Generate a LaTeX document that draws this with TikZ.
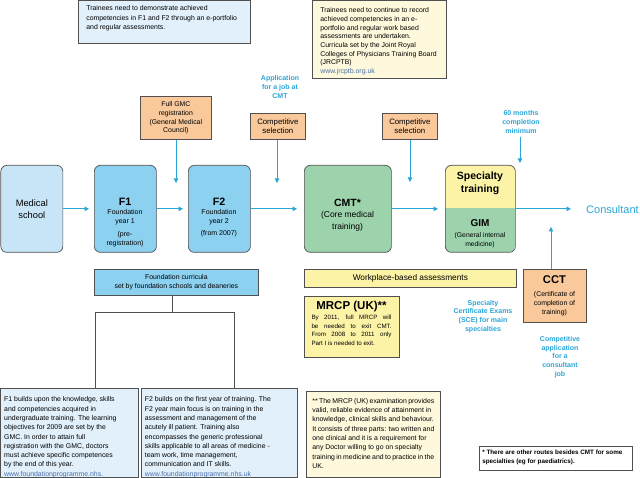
\documentclass[tikz,border=0pt]{standalone}
\usepackage{fontspec}
\setmainfont{Liberation Sans}
\usetikzlibrary{arrows.meta}
\definecolor{bord}{HTML}{505050}
\definecolor{paleblue}{HTML}{E1F0FB}
\definecolor{medblue}{HTML}{C8E5F8}
\definecolor{fblue}{HTML}{8DD1F1}
\definecolor{cgreen}{HTML}{9CD3AC}
\definecolor{syellow}{HTML}{FDF3A6}
\definecolor{pyellow}{HTML}{FEF9DC}
\definecolor{corange}{HTML}{F9C99C}
\definecolor{ccyan}{HTML}{2BA6D9}
\definecolor{urlblue}{HTML}{4A6FA8}
\newcommand\fs[2]{\fontsize{#1}{#2}\selectfont}
\newcommand\tbx[4]{\parbox[c][#2][t]{#1}{\rule{0pt}{#3}\ignorespaces#4}}
\begin{document}
\begin{tikzpicture}[x=1pt,y=-1pt,
  bx/.style={draw=bord, line width=0.7pt, inner sep=0pt, anchor=north west},
  rbx/.style={bx, rounded corners=6pt},
  arr/.style={draw=ccyan, line width=0.9pt, -{Triangle[length=4.5pt,width=4.5pt]}},
  lnk/.style={draw=bord, line width=0.8pt},
  ctext/.style={text=ccyan, font=\bfseries\fs{7}{8.8}, align=center, inner sep=0pt},
  lbl/.style={inner sep=0pt, anchor=base}
]
\useasboundingbox (0,0) rectangle (640,478);
\fill[white] (0,0) rectangle (640,478);

% top text boxes
\node[bx, fill=paleblue, inner xsep=8pt] (tl) at (78,0.4)
 {\tbx{156pt}{42.6pt}{10pt}{\fs{6.9}{9.3}Trainees need to demonstrate achieved\\competencies in F1 and F2 through an e-portfolio\\and regular assessments.}};
\node[bx, fill=pyellow, inner xsep=8pt] (tr) at (312,0.4)
 {\tbx{118pt}{77.6pt}{12pt}{\fs{6.9}{8.7}Trainees need to continue to record\\achieved competencies in an e-\\portfolio and regular work based\\assessments are undertaken.\\Curricula set by the Joint Royal\\Colleges of Physicians Training Board\\(JRCPTB)\\\textcolor{urlblue}{www.jrcptb.org.uk}}};

% selection boxes and cyan notes
\node[bx, fill=corange, minimum width=71pt, minimum height=43pt, align=center, font=\fs{6.9}{8.9}] (gmc) at (140,96) {Full GMC\\registration\\(General Medical\\Council)};
\node[ctext] (app) at (280,87) {Application\\for a job at\\CMT};
\node[bx, fill=corange, minimum width=55pt, minimum height=26pt, align=center, font=\fs{7.8}{9.6}] (cs1) at (250,113) {Competitive\\selection};
\node[bx, fill=corange, minimum width=55pt, minimum height=26pt, align=center, font=\fs{7.8}{9.6}] (cs2) at (382,113) {Competitive\\selection};
\node[ctext] (sixty) at (521,122) {60 months\\completion\\minimum};

% main pathway
\node[rbx, fill=medblue, minimum width=62pt, minimum height=87pt, align=center, font=\fs{9.3}{12}] (med) at (0.5,165) {Medical\\school};
\node[rbx, fill=fblue, minimum width=62pt, minimum height=87pt] (f1) at (94,165) {};
\node[lbl] (f1t) at (125,205.7) {\parbox[t]{62pt}{\centering\fs{10.7}{12}\bfseries F1\par\fs{7}{9}\mdseries Foundation\\year 1\\[3.5pt](pre-\\registration)}};
\node[rbx, fill=fblue, minimum width=62pt, minimum height=87pt] (f2) at (188,165) {};
\node[lbl] (f2t) at (219,205.7) {\parbox[t]{62pt}{\centering\fs{10.7}{12}\bfseries F2\par\fs{7}{9}\mdseries Foundation\\year 2\\[3pt](from 2007)}};
\node[rbx, fill=cgreen, minimum width=87pt, minimum height=87pt] (cmt) at (304,165) {};
\node[lbl] (cmtt) at (347.5,206.5) {\parbox[t]{85pt}{\centering\fs{10.5}{12}\bfseries CMT*\par\fs{8.5}{11.5}\mdseries(Core medical\\training)}};
\begin{scope}
  \clip[rounded corners=6pt] (445,165) rectangle (515,252);
  \fill[syellow] (445,165) rectangle (515,208);
  \fill[cgreen] (445,208) rectangle (515,252);
\end{scope}
\node[rbx, minimum width=70pt, minimum height=87pt] (spec) at (445,165) {};
\node[lbl] (spect) at (480,179.5) {\parbox[t]{68pt}{\centering\fs{10.5}{13.5}\bfseries Specialty\\training}};
\node[lbl] (gimt) at (480,226.3) {\parbox[t]{68pt}{\centering\fs{10}{11}\bfseries GIM\par\vspace{2pt}\fs{6.8}{9.3}\mdseries(General internal\\medicine)}};
\node[anchor=west, inner sep=0pt, text=ccyan, font=\fs{11}{13}] (cons) at (586,210) {Consultant};

% lower boxes
\node[bx, fill=fblue, minimum width=164pt, minimum height=26pt, align=center, font=\fs{6.9}{9.4}] (fc) at (94,269) {Foundation curricula\\set by foundation schools and deaneries};
\node[bx, fill=syellow, minimum width=212pt, minimum height=18pt, font=\fs{8.3}{10}] (wpa) at (304,269) {Workplace-based assessments};
\node[bx, fill=corange, minimum width=63pt, minimum height=53pt] (cct) at (523,269) {};
\node[lbl] (cctt) at (554.5,284) {\parbox[t]{62pt}{\centering\fs{11.2}{12}\bfseries CCT\par\vspace{3.5pt}\fs{6.9}{9}\mdseries(Certificate of\\completion of\\training)}};
\node[bx, fill=syellow, minimum width=95pt, minimum height=61pt] (mrcp) at (304,296) {};
\node[lbl] (mrcpt) at (351.5,310) {\parbox[t]{80pt}{{\centering\fs{11.5}{12}\bfseries MRCP (UK)**\par}\vspace{1.2pt}\fs{6.2}{8.6}\hbadness=10000 By 2011, full MRCP will\linebreak be needed to exit CMT.\linebreak From 2008 to 2011 only\linebreak Part I is needed to exit.}};
\node[ctext] (sce) at (483,316.5) {Specialty\\Certificate Exams\\(SCE) for main\\specialties};
\node[ctext] (capp) at (560,357) {Competitive\\application\\for a\\consultant\\job};

% description boxes
\node[bx, fill=paleblue, inner xsep=3.5pt] (f1d) at (0.4,388)
 {\tbx{131pt}{89.2pt}{13.5pt}{\fs{6.9}{9.3}F1 builds upon the knowledge, skills\\and competencies acquired in\\undergraduate training. The learning\\objectives for 2009 are set by the\\GMC. In order to attain full\\registration with the GMC, doctors\\must achieve specific competences\\by the end of this year.\\\textcolor{urlblue}{www.foundationprogramme.nhs.}}};
\node[bx, fill=paleblue, inner xsep=3.5pt] (f2d) at (141,388)
 {\tbx{149pt}{89.2pt}{13.5pt}{\fs{6.9}{9.3}F2 builds on the first year of training. The\\F2 year main focus is on training in the\\assessment and management of the\\acutely ill patient. Training also\\encompasses the generic professional\\skills applicable to all areas of medicine -\\team work, time management,\\communication and IT skills.\\\textcolor{urlblue}{www.foundationprogramme.nhs.uk}}};
\node[bx, fill=pyellow, inner xsep=6pt] (mrd) at (306,391)
 {\tbx{122pt}{86.2pt}{12pt}{\fs{6.9}{9.3}** The MRCP (UK) examination provides\\valid, reliable evidence of attainment in\\knowledge, clinical skills and behaviour.\\It consists of three parts: two written and\\one clinical and it is a requirement for\\any Doctor willing to go on specialty\\training in medicine and to practice in the\\UK.}};
\node[bx, fill=white, inner xsep=3pt] (foot) at (479,446)
 {\tbx{147pt}{24pt}{8.5pt}{\raggedright\fs{6.3}{9}\bfseries * There are other routes besides CMT for some\\specialties (eg for paediatrics).}};

% connectors
\coordinate (gmcend) at (176,183);
\coordinate (cs1end) at (277,183);
\coordinate (cs2end) at (410,182);
\coordinate (sixend) at (520,163);
\coordinate (cctend) at (551,227);
\draw[arr] (gmc.south -| gmcend) -- (gmcend);
\draw[arr] (cs1.south -| cs1end) -- (cs1end);
\draw[arr] (cs2.south -| cs2end) -- (cs2end);
\draw[arr] ([yshift=-3pt]sixty.south -| sixend) -- (sixend);
\draw[arr] (cct.north -| cctend) -- (cctend);
\draw[arr, shorten >=5pt] (med) -- (f1);
\draw[arr, shorten >=5pt] (f1) -- (f2);
\draw[arr, shorten >=7pt] (f2) -- (cmt);
\draw[arr, shorten >=7pt] (cmt) -- (spec);
\draw[arr, shorten >=15pt] (spec.east) -- (spec.east -| cons.west);

\coordinate (bl) at (95,312);
\coordinate (br) at (234,312);
\draw[lnk] (fc.south -| 172,0) -- (bl -| 172,0);
\draw[lnk] (bl |- f1d.north) -- (bl) -- (br) -- (br |- f2d.north);
\end{tikzpicture}
\end{document}
